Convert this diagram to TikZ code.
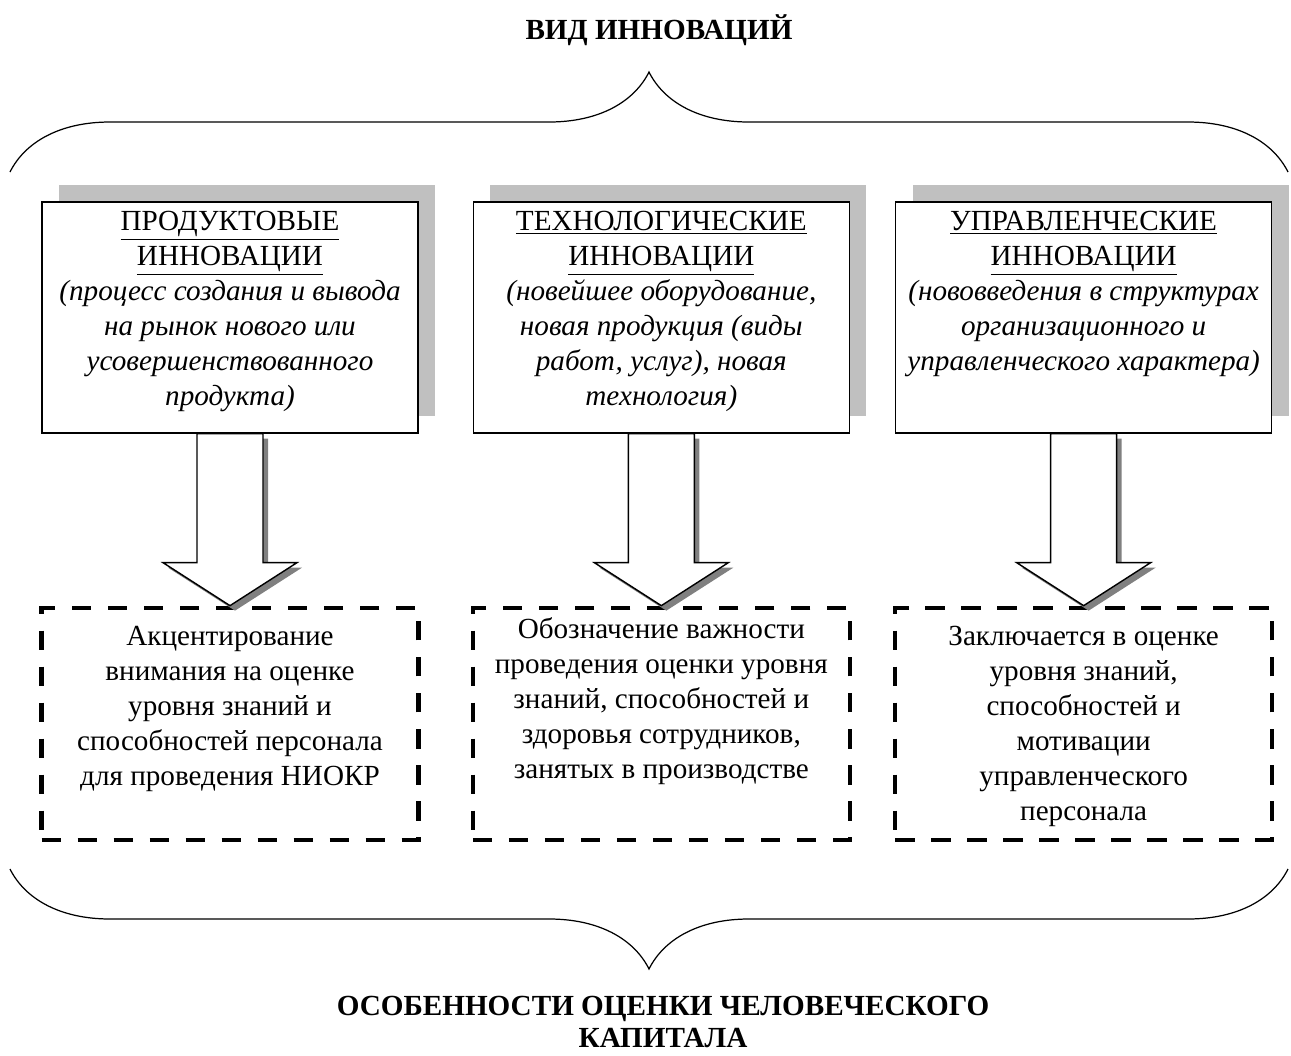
\documentclass[tikz,border=0pt]{standalone}
\usepackage{fontspec}
\setmainfont{Liberation Serif}
\usetikzlibrary{positioning,calc,shadows,decorations.pathreplacing}
\definecolor{boxshadow}{RGB}{192,192,192}
\definecolor{arrowshadow}{RGB}{128,128,128}
\tikzset{
    innobox/.style={
        rectangle,
        draw=black,
        fill=white,
        line width=0.8pt,
        minimum width=7.52cm,
        minimum height=4.62cm,
        drop shadow={shadow xshift=0.34cm, shadow yshift=0.34cm, fill=boxshadow, opacity=1}
    },
    featbox/.style={
        rectangle,
        draw=black,
        line width=2.5pt,
        dash pattern=on 11pt off 9.5pt,
        minimum width=7.54cm,
        minimum height=4.64cm
    },
    boxtext/.style={
        anchor=north,
        inner sep=0pt,
        align=center,
        font=\fontsize{16.6}{19.9}\selectfont
    },
    headtext/.style={
        inner sep=0pt,
        align=center,
        font=\fontsize{16.6}{18.2}\selectfont\bfseries
    }
}

\begin{document}
\begin{tikzpicture}[x=0.02cm, y=-0.02cm]
    \useasboundingbox (0,0) rectangle (1291,1055);

    % Headings
    \node (title) [headtext] at (659,30) {ВИД ИННОВАЦИЙ};
    \node (result) [headtext, anchor=north] at (663,996) {ОСОБЕННОСТИ ОЦЕНКИ ЧЕЛОВЕЧЕСКОГО\\КАПИТАЛА};

    % Braces
    \coordinate (topl) at (10,172);
    \coordinate (topr) at (1288,172);
    \coordinate (botl) at (10,869);
    \coordinate (botr) at (1288,869);
    \draw [line width=0.7pt, decorate, decoration={brace, amplitude=2cm}] (topl) -- (topr);
    \draw [line width=0.7pt, decorate, decoration={brace, amplitude=2cm}] (botr) -- (botl);

    % Kinds of innovation
    \node (b1) [innobox] at (230,317.5) {};
    \node (b2) [innobox, right=1.08cm of b1] {};
    \node (b3) [innobox, right=0.9cm of b2] {};

    \node (t1) [boxtext] at ($(b1.north)+(0,10)$) {\underline{ПРОДУКТОВЫЕ}\\\underline{ИННОВАЦИИ}\\
        \textit{(процесс создания и вывода}\\\textit{на рынок нового или}\\
        \textit{усовершенствованного}\\\textit{продукта)}};
    \node (t2) [boxtext] at ($(b2.north)+(0,10)$) {\underline{ТЕХНОЛОГИЧЕСКИЕ}\\\underline{ИННОВАЦИИ}\\
        \textit{(новейшее оборудование,}\\\textit{новая продукция (виды}\\
        \textit{работ, услуг), новая}\\\textit{технология)}};
    \node (t3) [boxtext] at ($(b3.north)+(0,10)$) {\underline{УПРАВЛЕНЧЕСКИЕ}\\\underline{ИННОВАЦИИ}\\
        \textit{(нововведения в структурах}\\\textit{организационного и}\\
        \textit{управленческого характера)}};

    % Features of the assessment
    \node (d1) [featbox, below=3.44cm of b1] {};
    \node (d2) [featbox, below=3.44cm of b2] {};
    \node (d3) [featbox, below=3.44cm of b3] {};

    \node (dt1) [boxtext] at ($(d1.north)+(0,20)$) {Акцентирование\\внимания на оценке\\уровня знаний и\\
        способностей персонала\\для проведения НИОКР};
    \node (dt2) [boxtext] at ($(d2.north)+(0,12)$) {Обозначение важности\\проведения оценки уровня\\
        знаний, способностей и\\здоровья сотрудников,\\занятых в производстве};
    \node (dt3) [boxtext] at ($(d3.north)+(0,20)$) {Заключается в оценке\\уровня знаний,\\способностей и\\
        мотивации\\управленческого\\персонала};

    % Block arrows
    \foreach \i in {1,2,3} {
        \fill [arrowshadow, transform canvas={shift={(5,5)}}] ($(b\i.south)+(-33,0)$) -- ($(d\i.north)+(-33,-43)$)
            -- ($(d\i.north)+(-67,-43)$) -- (d\i.north) -- ($(d\i.north)+(67,-43)$)
            -- ($(d\i.north)+(33,-43)$) -- ($(b\i.south)+(33,0)$) -- cycle;
        \draw [fill=white, line width=0.8pt] ($(b\i.south)+(-33,0)$) -- ($(d\i.north)+(-33,-43)$)
            -- ($(d\i.north)+(-67,-43)$) -- (d\i.north) -- ($(d\i.north)+(67,-43)$)
            -- ($(d\i.north)+(33,-43)$) -- ($(b\i.south)+(33,0)$) -- cycle;
    }
\end{tikzpicture}
\end{document}
